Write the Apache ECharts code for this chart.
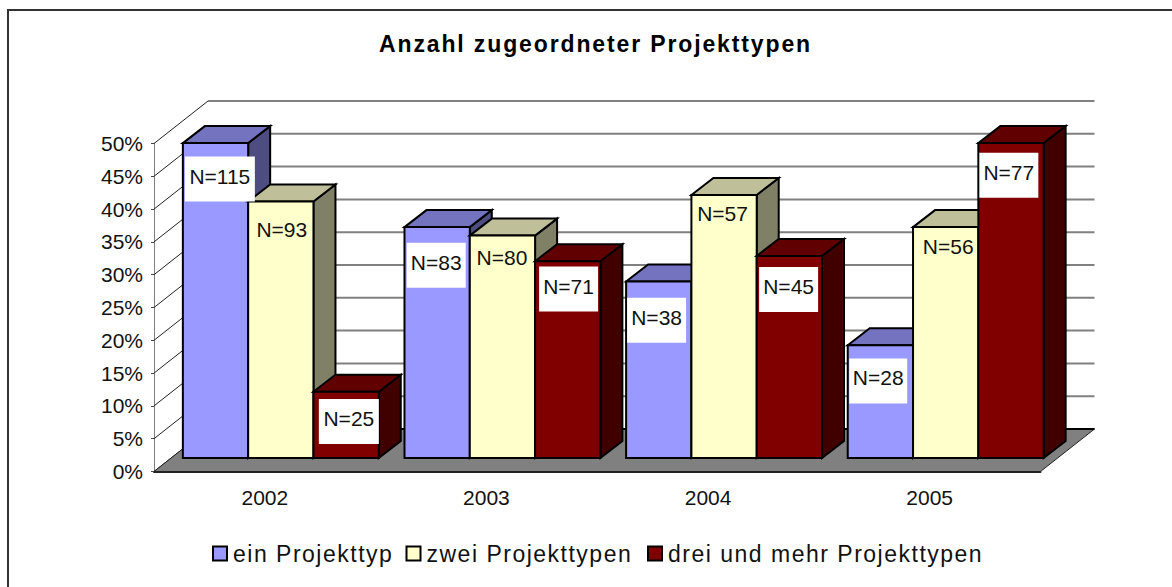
<!DOCTYPE html>
<html><head><meta charset="utf-8">
<style>
html,body{margin:0;padding:0;background:#fff}
#c{width:1172px;height:587px}
text[style*="Arial"]{letter-spacing:1.5px}
text[style*="Helvetica"]{letter-spacing:1.87px}
</style>
<script src="https://cdn.jsdelivr.net/npm/echarts@6/dist/echarts.min.js"></script>
</head><body><div id="c"></div>
<script>
const years = ['2002','2003','2004','2005'];
const seriesNames = ['ein Projekttyp','zwei Projekttypen','drei und mehr Projekttypen'];
const einProjekttyp = [48.0,35.2,26.9,17.2];
const zweiProjekttypen = [39.1,33.9,40.1,35.2];
const dreiProjekttypen = [10.1,30.0,30.8,48.0];
const nEin = ['N=115','N=83','N=38','N=28'];
const nZwei = ['N=93','N=80','N=57','N=56'];
const nDrei = ['N=25','N=71','N=45','N=77'];
const percentTicks = [0,5,10,15,20,25,30,35,40,45,50];

// layout and style constants
const FONT='"Liberation Sans"';
const WALL=[54,-42.5], BAR_DEPTH=[22,-17], BAR_SHIFT=[16,-13.5], BAR_W=65.3;
const PALETTE=[
 {front:'#9999FF',top:'#7373BF',side:'#4D4D80'},
 {front:'#FFFFCC',top:'#BFBF99',side:'#808066'},
 {front:'#800000',top:'#600000',side:'#400000'}];
// label box offset from the bar's front top-left corner: dx, dy, width (0 = no white box)
const LABEL_BOX=[
 [[2,13.5,70],[2.2,15.7,59],[1,16.3,59],[1.5,13.3,58]],
 [[1.5,6,0],[0,0.5,0],[-1,-2.5,0],[3,-2.5,0]],
 [[5.4,7.3,60],[4,5.3,59],[2.4,11,59],[1,9.7,59]]];
const LABEL_H=45;

function barRender(sIdx){
 return function(params,api){
  const i=api.value(0), v=api.value(1);
  const c0=api.coord([i,0]), c1=api.coord([i,v]);
  const x=c0[0]+BAR_SHIFT[0]+(sIdx-1.5)*BAR_W, y0=c0[1]+BAR_SHIFT[1], y1=c1[1]+BAR_SHIFT[1];
  const dx=BAR_DEPTH[0], dy=BAR_DEPTH[1], w=BAR_W, p=PALETTE[sIdx];
  const st=f=>({fill:f,stroke:'#000',lineWidth:2,lineJoin:'miter'});
  return {type:'group',children:[
   {type:'polygon',shape:{points:[[x+w,y1],[x+w+dx,y1+dy],[x+w+dx,y0+dy],[x+w,y0]]},style:st(p.side)},
   {type:'polygon',shape:{points:[[x,y1],[x+dx,y1+dy],[x+w+dx,y1+dy],[x+w,y1]]},style:st(p.top)},
   {type:'rect',shape:{x:x,y:y1,width:w,height:y0-y1},style:st(p.front)}
  ]};
 };
}
function labelRender(sIdx,texts){
 return function(params,api){
  const i=api.value(0), v=api.value(1);
  const c0=api.coord([i,0]), c1=api.coord([i,v]);
  const x=c0[0]+BAR_SHIFT[0]+(sIdx-1.5)*BAR_W, y1=c1[1]+BAR_SHIFT[1];
  const b=LABEL_BOX[sIdx][i];
  const bw=b[2]||BAR_W-1, bx=x+b[0], by=y1+b[1];
  const ch=[];
  if(b[2]) ch.push({type:'rect',shape:{x:bx,y:by,width:bw,height:LABEL_H},style:{fill:'#fff'}});
  ch.push({type:'text',style:{x:bx+bw/2,y:by+LABEL_H/2-(b[2]?3:1),text:texts[i],fill:'#111',font:'21px '+FONT,align:'center',verticalAlign:'middle'}});
  return {type:'group',children:ch};
 };
}
function wallRender(params,api){
 const v=api.value(0);
 const a=api.coord([0,v]);
 const left=api.coord([0,0])[0]-(api.size([1,0])[0]/2);
 const right=left+api.size([1,0])[0]*years.length;
 const y=a[1];
 return {type:'group',children:[
  {type:'line',shape:{x1:left,y1:y,x2:left+WALL[0],y2:y+WALL[1]},style:{stroke:'#222',lineWidth:1}},
  ...(v===0?[]:[{type:'line',shape:{x1:left+WALL[0],y1:y+WALL[1],x2:right+WALL[0],y2:y+WALL[1]},style:{stroke:'#808080',lineWidth:2}}])
 ]};
}
function floorRender(params,api){
 const y=api.coord([0,0])[1];
 const left=api.coord([0,0])[0]-(api.size([1,0])[0]/2);
 const right=left+api.size([1,0])[0]*years.length;
 return {type:'group',children:[
  {type:'polygon',shape:{points:[[left,y],[right,y],[right+WALL[0],y+WALL[1]],[left+WALL[0],y+WALL[1]]]},style:{fill:'#808080',stroke:'#222',lineWidth:1}},
  {type:'line',shape:{x1:left+WALL[0],y1:y+WALL[1],x2:right+WALL[0],y2:y+WALL[1]},style:{stroke:'#000',lineWidth:2}}
 ]};
}
const values=[einProjekttyp,zweiProjekttypen,dreiProjekttypen];
const labels=[nEin,nZwei,nDrei];
const rows=a=>a.map((v,i)=>[i,v]);
const series=[
 {type:'custom',name:'walls',renderItem:wallRender,data:percentTicks.map(t=>[t]),encode:{y:0},silent:true,z:1},
 {type:'custom',name:'floor',renderItem:floorRender,data:[[0]],encode:{y:0},silent:true,z:2},
 ...values.map((vals,s)=>({type:'custom',name:seriesNames[s],renderItem:barRender(s),data:rows(vals),encode:{x:0,y:1},itemStyle:{color:PALETTE[s].front},z:3+s})),
 ...values.map((vals,s)=>({type:'custom',name:'N '+seriesNames[s],renderItem:labelRender(s,labels[s]),data:rows(vals),encode:{x:0,y:1},silent:true,z:10}))
];
const legendLeft=[212,405.5,647];
const chart=echarts.init(document.getElementById('c'),null,{renderer:'svg'});
chart.setOption({
 animation:false,backgroundColor:'#fff',
 title:{text:'Anzahl zugeordneter Projekttypen',left:379,top:32,padding:0,itemGap:0,
  textStyle:{fontFamily:'Liberation Sans, Helvetica',fontWeight:'bold',fontSize:23,color:'#000'}},
 legend:seriesNames.map((n,i)=>({data:[n],left:legendLeft[i],top:542,padding:0,itemWidth:14,itemHeight:14,
  icon:'rect',itemStyle:{borderColor:'#000',borderWidth:2},selectedMode:false,
  textStyle:{fontFamily:'Liberation Sans, Arial',fontSize:23,color:'#111',padding:[0,0,4,1]}})),
 grid:{left:154,right:131.5,top:143.5,bottom:115.5},
 xAxis:{type:'category',data:years,boundaryGap:true,
  axisLine:{lineStyle:{color:'#222',width:2}},axisTick:{length:7,lineStyle:{color:'#444',width:1}},
  axisLabel:{fontFamily:FONT,fontSize:21,color:'#111',margin:15}},
 yAxis:{type:'value',min:0,max:50,interval:5,
  axisLine:{show:true,lineStyle:{color:'#808080',width:1}},axisTick:{show:true,length:3,lineStyle:{color:'#444'}},
  splitLine:{show:false},
  axisLabel:{formatter:'{value}%',fontFamily:FONT,fontSize:21,color:'#111',margin:11,padding:[0,0,2,0]}},
 series:series,
 graphic:[{type:'polyline',shape:{points:[[8,587],[8,10],[1172,10]]},style:{stroke:'#333',lineWidth:2,fill:null},silent:true}]
});
</script></body></html>
